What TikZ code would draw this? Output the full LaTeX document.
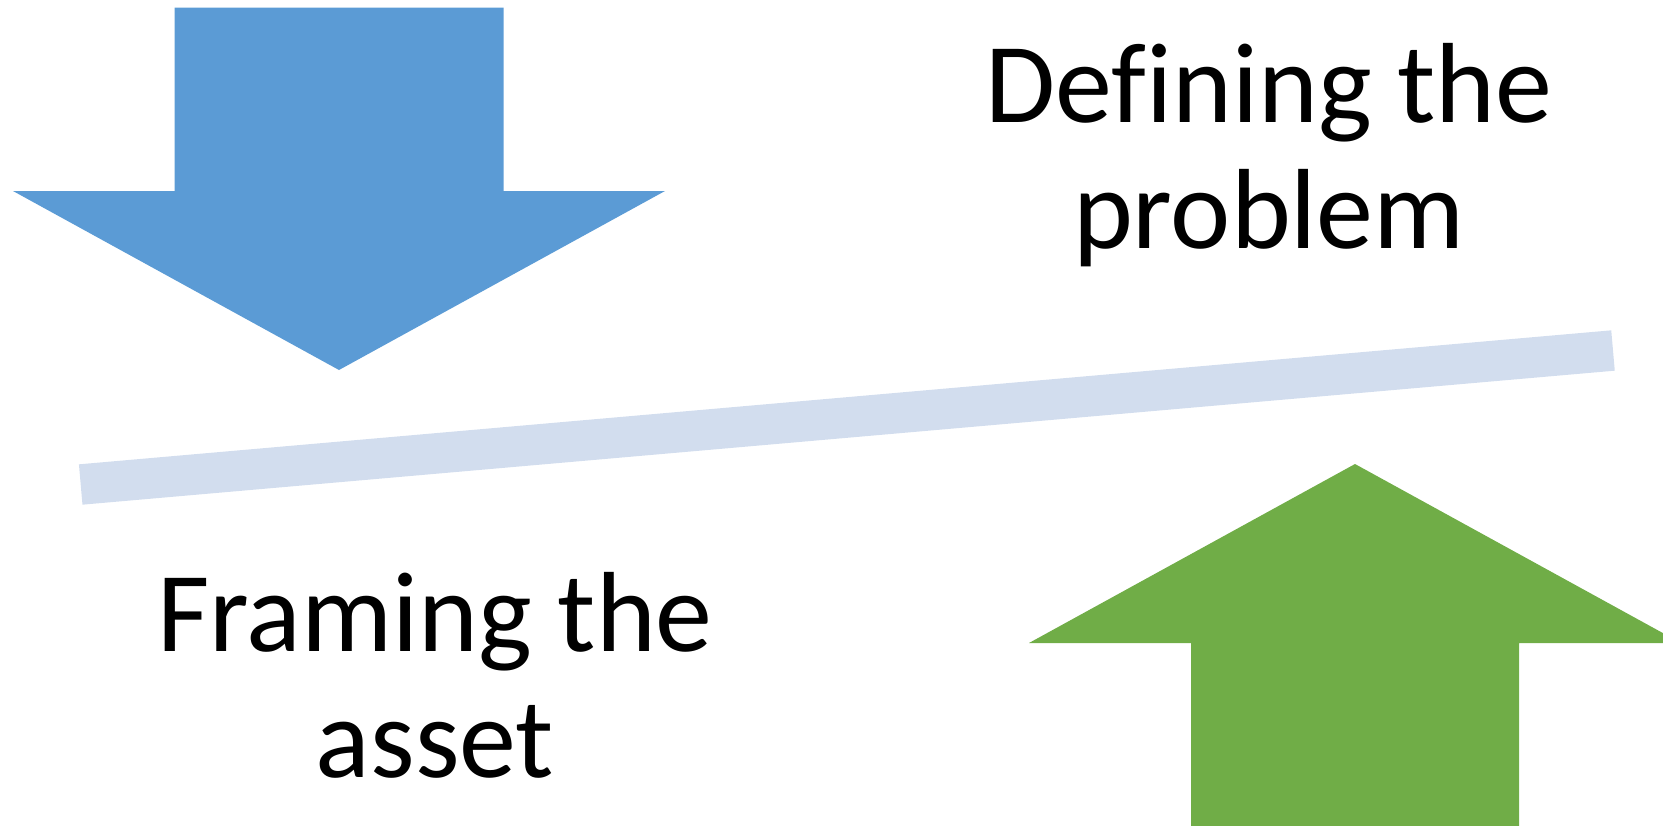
\documentclass[tikz,border=0pt]{standalone}
\usepackage{fontspec}
\setmainfont[Ligatures=NoCommon]{Carlito}
\definecolor{arrowblue}{HTML}{5B9BD5}
\definecolor{arrowgreen}{HTML}{70AD47}
\definecolor{barblue}{HTML}{D2DDEE}
\begin{document}
\begin{tikzpicture}[x=1pt,y=-1pt,
  bigtext/.style={align=center,inner sep=0pt,font=\fontsize{114}{126}\selectfont}]
\useasboundingbox (0,0) rectangle (1663,825);
\clip (0,0) rectangle (1663,825);
% tilted balance bar
\coordinate (barL) at (80.7,484.5);
\coordinate (barR) at (1613,350.5);
\draw[barblue,line width=40.5pt] (barL) -- (barR);
% downward arrow
\fill[arrowblue] (174.5,7.7) -- (503.6,7.7) -- (503.6,191) -- (665,191)
  -- (339,370) -- (13,191) -- (174.5,191) -- cycle;
% upward arrow
\fill[arrowgreen] (1191,830) -- (1191,643) -- (1029,643) -- (1355,464)
  -- (1681,643) -- (1519,643) -- (1519,830) -- cycle;
% labels (anchored on the baseline of their last line)
\node[bigtext,anchor=base] (define) at (1269,248) {Defining the\\problem};
\node[bigtext,anchor=base] (frame) at (435,777) {Framing the\\asset};
\end{tikzpicture}
\end{document}
